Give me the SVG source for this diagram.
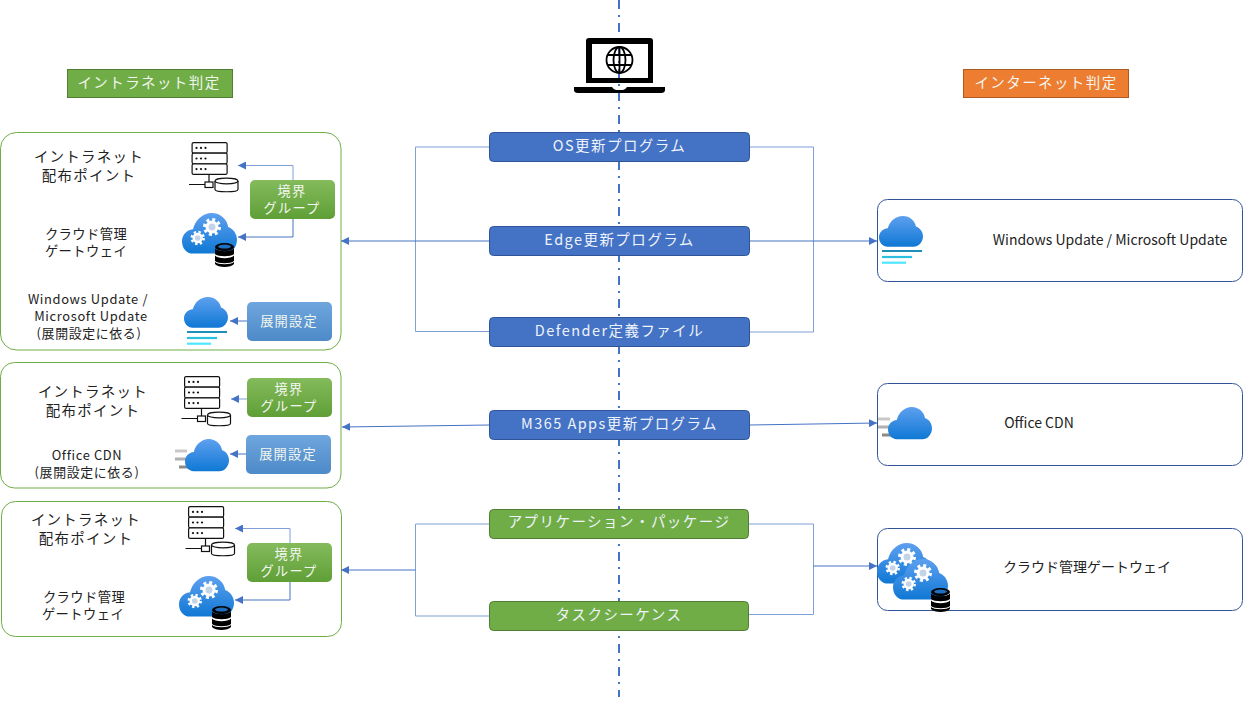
<svg xmlns="http://www.w3.org/2000/svg" width="1243" height="703" viewBox="0 0 1243 703">
<style>
text{font-family:"Noto Sans CJK JP","Noto Sans",sans-serif;text-anchor:middle;fill:#222}
.l{font-size:14.5px;letter-spacing:1.25px}
.m{font-size:13.3px;letter-spacing:.4px}
.n{font-size:12.9px;letter-spacing:.65px}
.s{font-size:14px}
.c{font-size:14.5px;letter-spacing:1.45px;fill:#eef3fb}
.w{font-size:13.2px;letter-spacing:1.2px;fill:#f2f6ee}
.h{font-size:14.5px;letter-spacing:1.4px;fill:#f2f6ee}
.frame-g{fill:#fff;stroke:#70ad47;stroke-width:1}
.frame-b{fill:#fff;stroke:#2f5597;stroke-width:1}
.blue{fill:#4472c4;stroke:#2f5597}
.green{fill:#70ad47;stroke:#507e32}
.con{fill:none;stroke:#4472c4;stroke-width:1}
.brk{fill:none;stroke:#7f9fd8;stroke-width:1}
</style>
<defs>
<linearGradient id="gc" x1="0" y1="0" x2="0" y2="1"><stop offset="0" stop-color="#5ea0ef"/><stop offset="1" stop-color="#0f78d4"/></linearGradient>
<linearGradient id="gg" x1="0" y1="0" x2="0" y2="1"><stop offset="0" stop-color="#84bb5c"/><stop offset="1" stop-color="#5f9f36"/></linearGradient>
<linearGradient id="gb" x1="0" y1="0" x2="0" y2="1"><stop offset="0" stop-color="#6fa6de"/><stop offset="1" stop-color="#4d8ac8"/></linearGradient>
<marker id="a" viewBox="0 0 10 10" refX="10" refY="5" markerWidth="8" markerHeight="8" markerUnits="userSpaceOnUse" orient="auto"><path d="M0 0L10 5L0 10Z" fill="#4472c4"/></marker>
<path id="cl" d="M20 70C8 70 0 60 0 49C0 38 8 29 20 28C24 12 38 0 54 0C70 0 82 11 84 24C93 27 100 36 100 46C100 59 90 70 78 70Z"/>
<g id="gear"><circle r="7.500" fill="none" stroke="#fff" stroke-width="3" stroke-dasharray="3 2.890"/><circle r="5" fill="#c3d3e8" stroke="#fff" stroke-width="3"/></g>
<g id="db"><g fill="#000"><ellipse cx="9.500" cy="4" rx="9.500" ry="4"/><path d="M0 5.500C3 9 16 9 19 5.500V11C16 14 3 14 0 11Z"/><path d="M0 12.500C3 16 16 16 19 12.500V18C16 21 3 21 0 18Z"/><path d="M0 19C3 22 16 22 19 19V21C16 25 3 25 0 21Z"/></g><ellipse cx="9.500" cy="3.600" rx="6.500" ry="2" fill="#1f6fc0"/></g>
<g id="cg"><use href="#cl" transform="scale(.55 .58)" fill="url(#gc)"/><use href="#gear" x="30" y="14"/><use href="#gear" transform="translate(15.700 25) scale(.8)"/></g>
<g id="srv"><g fill="#fff" stroke="#111" stroke-width="1.200"><rect x=".6" y=".6" width="35" height="10.600" rx="1.500"/><rect x=".6" y="11.200" width="35" height="10.600" rx="1.500"/><rect x=".6" y="21.800" width="35" height="10.600" rx="1.500"/></g><g fill="#111"><circle cx="5" cy="5.900" r="1.100"/><circle cx="9.500" cy="5.900" r="1.100"/><circle cx="14" cy="5.900" r="1.100"/><circle cx="5" cy="16.500" r="1.100"/><circle cx="9.500" cy="16.500" r="1.100"/><circle cx="14" cy="16.500" r="1.100"/><circle cx="5" cy="27.100" r="1.100"/><circle cx="9.500" cy="27.100" r="1.100"/><circle cx="14" cy="27.100" r="1.100"/></g><path d="M-2.500 42.500H13.500M17.500 32.400V40" fill="none" stroke="#111" stroke-width="1.200"/><rect x="13.500" y="40" width="8" height="5.500" fill="#fff" stroke="#111" stroke-width="1.200"/><path d="M23.500 39V47.500C23.500 50.500 46.500 50.500 46.500 47.500V39" fill="#fff" stroke="#111" stroke-width="1.200"/><ellipse cx="35" cy="39" rx="11.500" ry="2.800" fill="#fff" stroke="#111" stroke-width="1.200"/></g>
<g id="wu"><use href="#cl" transform="scale(.44)" fill="url(#gc)"/><g stroke-width="2.200"><path d="M3 35H43" stroke="#1f8fb8"/><path d="M3 41H33" stroke="#2bc0e0"/><path d="M3 46.700H27" stroke="#50e6ff"/></g></g>
<g id="cdn"><g stroke-width="3"><path d="M0 12H12" stroke="#c8c8c8"/><path d="M0 20H12" stroke="#b0b0b0"/><path d="M4 28H14" stroke="#8a8a8a"/></g><use href="#cl" transform="translate(10 0) scale(.44 .46)" fill="url(#gc)"/></g>
</defs>

<path d="M619 0V697" fill="none" stroke="#4472c4" stroke-width="2" stroke-dasharray="9 6 2 6"/>

<g id="laptop"><path d="M586 83V41Q586 38 589 38H650Q653 38 653 41V83ZM592 44V78H648V44Z" fill="#000" fill-rule="evenodd"/><path d="M574 87H612Q614 90 616 90H623Q625 90 627 87H665V90Q665 93 661 93H578Q574 93 574 90Z" fill="#000"/><g fill="none" stroke="#000" stroke-width="1.800"><circle cx="619.500" cy="60" r="13"/><ellipse cx="619.500" cy="60" rx="6" ry="13"/><path d="M619.500 47V73M607.500 55H631.500M607.500 65H631.500"/></g></g>

<g id="hdr-intranet"><rect x="67.500" y="69.500" width="165" height="28" fill="#70ad47" stroke="#507e32"/><text class="h" x="149" y="87.500">イントラネット判定</text></g>
<g id="hdr-internet"><rect x="963.500" y="69.500" width="165" height="28" fill="#ed7d31" stroke="#ae5a21"/><text class="h" x="1046" y="87.500">インターネット判定</text></g>

<g id="left-1"><rect class="frame-g" x="0.500" y="132.500" width="340.500" height="217.500" rx="16"/>
<text class="l"><tspan x="89" y="162">イントラネット</tspan><tspan x="89" y="181">配布ポイント</tspan></text>
<use href="#srv" x="191.500" y="142"/>
<text class="m"><tspan x="86" y="239">クラウド管理</tspan><tspan x="86" y="256">ゲートウェイ</tspan></text>
<use href="#cg" x="182" y="213"/><use href="#db" x="215" y="243"/>
<text class="n"><tspan x="88" y="303.500">Windows Update /</tspan><tspan x="91" y="320.500">Microsoft Update</tspan><tspan x="89" y="337.500">(展開設定に依る)</tspan></text>
<use href="#wu" x="184" y="297"/></g>
<g id="left-1-boundary"><rect x="250" y="180" width="85" height="39" rx="5" fill="url(#gg)"/><text class="w"><tspan x="292" y="196">境界</tspan><tspan x="292" y="213">グループ</tspan></text></g>
<g id="left-1-deploy"><rect x="247" y="302" width="85" height="39" rx="5" fill="url(#gb)"/><text class="w" x="289" y="326">展開設定</text></g>

<g id="left-2"><rect class="frame-g" x="0.500" y="362.500" width="340.500" height="125.500" rx="14"/>
<text class="l"><tspan x="93" y="397">イントラネット</tspan><tspan x="93" y="416">配布ポイント</tspan></text>
<use href="#srv" x="184" y="376"/>
<text class="n"><tspan x="87" y="460">Office CDN</tspan><tspan x="87" y="477">(展開設定に依る)</tspan></text>
<use href="#cdn" x="175" y="439"/></g>
<g id="left-2-boundary"><rect x="247" y="378" width="85" height="39" rx="5" fill="url(#gg)"/><text class="w"><tspan x="289" y="394">境界</tspan><tspan x="289" y="411">グループ</tspan></text></g>
<g id="left-2-deploy"><rect x="246" y="435" width="85" height="39" rx="5" fill="url(#gb)"/><text class="w" x="288" y="459">展開設定</text></g>

<g id="left-3"><rect class="frame-g" x="1.500" y="501.500" width="340" height="135" rx="14"/>
<text class="l"><tspan x="86" y="525">イントラネット</tspan><tspan x="86" y="544">配布ポイント</tspan></text>
<use href="#srv" x="188" y="506"/>
<text class="m"><tspan x="84" y="602">クラウド管理</tspan><tspan x="83" y="619">ゲートウェイ</tspan></text>
<use href="#cg" x="179" y="576"/><use href="#db" x="212" y="606"/></g>
<g id="left-3-boundary"><rect x="247" y="543" width="85" height="39" rx="5" fill="url(#gg)"/><text class="w"><tspan x="289" y="559">境界</tspan><tspan x="289" y="576">グループ</tspan></text></g>

<g id="connectors">
<path class="brk" d="M489 147H415.500V331.500H489"/><path class="con" d="M489 241H341" marker-end="url(#a)"/>
<path class="brk" d="M750 147H813.500V332H750"/><path class="con" d="M750 241H877" marker-end="url(#a)"/>
<path class="con" d="M489 425L342 427" marker-end="url(#a)"/><path class="con" d="M750 425L877 423" marker-end="url(#a)"/>
<path class="brk" d="M489 524H415.500V616H489"/><path class="con" d="M415.500 570H341" marker-end="url(#a)"/>
<path class="brk" d="M749 524H813.500V614.500H749"/><path class="con" d="M813.500 566H877" marker-end="url(#a)"/>
<path class="brk" d="M293 180V165.500H238" marker-end="url(#a)"/><path class="con" d="M293 219V237H238" marker-end="url(#a)"/>
<path class="con" d="M247 321H230" marker-end="url(#a)"/><path class="brk" d="M247 399H231" marker-end="url(#a)"/><path class="con" d="M246 454H230" marker-end="url(#a)"/>
<path class="brk" d="M290 543V528.500H235" marker-end="url(#a)"/><path class="con" d="M290 582V600H235" marker-end="url(#a)"/>
</g>

<g id="os"><rect class="blue" x="489.500" y="132.500" width="260" height="29" rx="4"/><text class="c" x="619.500" y="151">OS更新プログラム</text></g>
<g id="edge"><rect class="blue" x="489.500" y="226.500" width="260" height="29" rx="4"/><text class="c" x="619.500" y="245">Edge更新プログラム</text></g>
<g id="defender"><rect class="blue" x="489.500" y="317.500" width="260" height="29" rx="4"/><text class="c" x="619.500" y="336">Defender定義ファイル</text></g>
<g id="m365"><rect class="blue" x="489.500" y="410.500" width="260" height="29" rx="4"/><text class="c" x="619.500" y="429">M365 Apps更新プログラム</text></g>
<g id="apps"><rect class="green" x="489.500" y="509.500" width="259" height="29" rx="4"/><text class="c" x="619" y="527">アプリケーション・パッケージ</text></g>
<g id="ts"><rect class="green" x="489.500" y="601.500" width="259" height="29" rx="4"/><text class="c" x="619" y="620">タスクシーケンス</text></g>

<g id="right-wu"><rect class="frame-b" x="877.500" y="199.500" width="365" height="82" rx="10"/><use href="#wu" x="879" y="216"/><text class="s" x="1110" y="245">Windows Update / Microsoft Update</text></g>
<g id="right-cdn"><rect class="frame-b" x="877.500" y="383.500" width="365" height="82" rx="10"/><use href="#cdn" x="878" y="407"/><text class="s" x="1039" y="428">Office CDN</text></g>
<g id="right-cmg"><rect class="frame-b" x="877.500" y="528.500" width="365" height="82" rx="10"/><use href="#cg" x="877" y="543"/><use href="#cg" x="893" y="559"/><use href="#db" x="931" y="588"/><text class="s" x="1087" y="572">クラウド管理ゲートウェイ</text></g>
</svg>
